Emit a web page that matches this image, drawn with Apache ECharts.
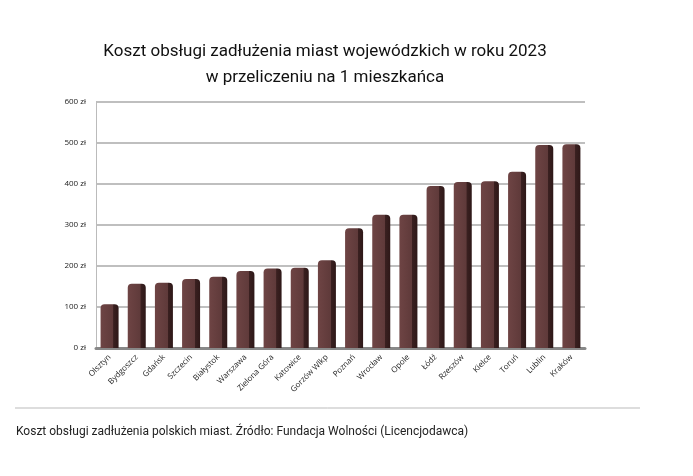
<!DOCTYPE html>
<html><head><meta charset="utf-8">
<script src="https://cdn.jsdelivr.net/npm/echarts@6/dist/echarts.min.js"></script>
<style>html,body{margin:0;padding:0;background:#fff}#c{width:693px;height:476px}</style>
</head><body><div id="c"></div>
<script>
const categories=["Olsztyn","Bydgoszcz","Gdańsk","Szczecin","Białystok","Warszawa","Zielona Góra","Katowice","Gorzów Wlkp","Poznań","Wrocław","Opole","Łódź","Rzeszów","Kielce","Toruń","Lublin","Kraków"];
const values=[107,157,159,168,174,188,194,196,214,292,325,325,395,405,407,430,495,497];
const yTicks=[0,100,200,300,400,500,600];
const chart=echarts.init(document.getElementById('c'));
chart.setOption({
  animation:false,
  title:{text:'Koszt obsługi zadłużenia miast wojewódzkich w roku 2023\nw przeliczeniu na 1 mieszkańca',left:320,top:34,textAlign:'center',
    textStyle:{fontFamily:'Roboto',fontSize:17,fontWeight:'normal',color:'#111',lineHeight:26}},
  grid:{left:96,right:108,top:102,bottom:128},
  xAxis:{type:'category',data:categories,axisTick:{show:false},
    axisLine:{lineStyle:{color:'#888',width:3}},
    axisLabel:{rotate:45,fontSize:8,color:'#222',fontFamily:'Open Sans',margin:8,interval:0}},
  yAxis:{type:'value',min:0,max:600,interval:100,
    axisLine:{show:true,lineStyle:{color:'#bbb'}},axisTick:{show:false},
    splitLine:{lineStyle:{color:'#aaa',width:1.5}},
    axisLabel:{formatter:v=>yTicks.includes(v)?v+' zł':'',fontSize:8,color:'#222',fontFamily:'Open Sans',margin:10}},
  graphic:[
    {type:'line',shape:{x1:15,y1:408,x2:640,y2:408},style:{stroke:'#bbb',lineWidth:1}},
    {type:'text',left:16,top:426,style:{text:'Koszt obsługi zadłużenia polskich miast. Źródło: Fundacja Wolności (Licencjodawca)',fontSize:12,fontFamily:'Roboto',fill:'#222'}}
  ],
  series:[{type:'bar',data:values,barWidth:18,
    itemStyle:{borderRadius:[4,4,0,0],color:new echarts.graphic.LinearGradient(0,0,1,0,[
      {offset:0,color:'#6e4444'},{offset:0.7,color:'#5f3a3a'},{offset:0.72,color:'#3a2020'},{offset:1,color:'#2e1818'}])}}]
});
</script></body></html>
